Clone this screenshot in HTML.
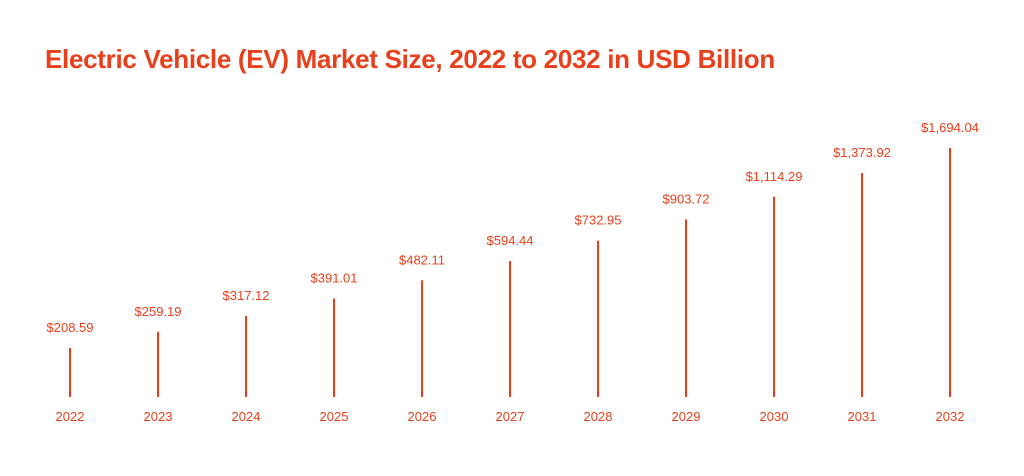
<!DOCTYPE html>
<html><head><meta charset="utf-8"><style>
body{margin:0;background:#fff;width:1024px;height:476px;overflow:hidden;font-family:"Liberation Sans",sans-serif}
h1{position:absolute;left:45px;top:44px;margin:0;font-size:26px;font-weight:bold;color:#e8401c;letter-spacing:-0.3px}
</style></head><body>
<h1>Electric Vehicle (EV) Market Size, 2022 to 2032 in USD Billion</h1>
<svg id="c" width="1024" height="476" style="position:absolute;left:0;top:0"></svg>
<script>
const years=["2022","2023","2024","2025","2026","2027","2028","2029","2030","2031","2032"];
const values=[208.59,259.19,317.12,391.01,482.11,594.44,732.95,903.72,1114.29,1373.92,1694.04];
const valueLabels=["$208.59","$259.19","$317.12","$391.01","$482.11","$594.44","$732.95","$903.72","$1,114.29","$1,373.92","$1,694.04"];
const svg=document.getElementById('c');
const NS='http://www.w3.org/2000/svg';
const x0=70,step=88,base=397;
function xs(i){return x0+i*step;}
const P=0.25;
const lmin=Math.pow(values[0],P),lmax=Math.pow(values[values.length-1],P);
function ys(v){return base-(49+200*(Math.pow(v,P)-lmin)/(lmax-lmin));}
values.forEach((v,i)=>{
 const l=document.createElementNS(NS,'line');
 
 
 l.setAttribute('x1',xs(i));l.setAttribute('x2',xs(i));
 l.setAttribute('y1',base);l.setAttribute('y2',ys(v));
 l.setAttribute('stroke','#e8401c');l.setAttribute('stroke-width','2');
 svg.appendChild(l);
 const t=document.createElementNS(NS,'text');
 
 
 t.setAttribute('x',xs(i));t.setAttribute('y',ys(v)-16);
 t.setAttribute('text-anchor','middle');t.setAttribute('font-size','13');
 t.setAttribute('fill','#e8401c');t.setAttribute('font-family','Liberation Sans, sans-serif');
 t.textContent=valueLabels[i];svg.appendChild(t);
 const y=document.createElementNS(NS,'text');
 
 
 y.setAttribute('x',xs(i));y.setAttribute('y',421);
 y.setAttribute('text-anchor','middle');y.setAttribute('font-size','13');
 y.setAttribute('fill','#e8401c');y.setAttribute('font-family','Liberation Sans, sans-serif');
 y.textContent=years[i];svg.appendChild(y);
});
</script>
</body></html>
